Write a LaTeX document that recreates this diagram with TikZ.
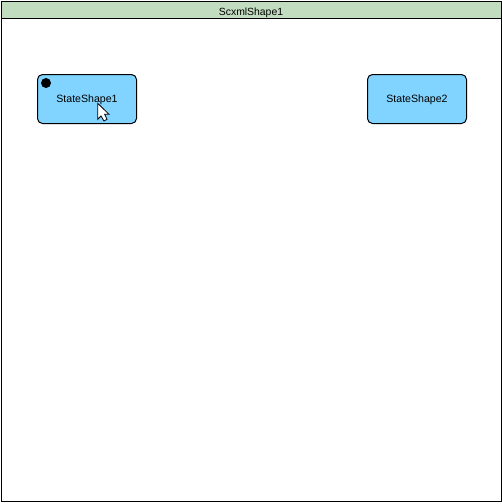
\documentclass[tikz,border=0pt]{standalone}
\usepackage{fontspec}
\setmainfont{Liberation Sans}
\definecolor{headergreen}{RGB}{193,220,190}
\definecolor{statesky}{RGB}{128,212,255}
\begin{document}
\begin{tikzpicture}[x=1pt, y=1pt, line width=1pt]
    \tikzstyle{scxml} = [draw=black, fill=white]
    \tikzstyle{header} = [draw=black, fill=headergreen]
    \tikzstyle{state} = [draw=black, fill=statesky, rounded corners=5pt, minimum width=99pt, minimum height=49pt, inner sep=0pt, text depth=0pt, font=\fontsize{10.6}{12}\selectfont]
    \tikzstyle{title} = [inner sep=0pt, font=\fontsize{10.4}{12}\selectfont]
    \tikzstyle{initial} = [circle, fill=black, minimum size=10pt, inner sep=0pt]
    \useasboundingbox (0, 0) rectangle (502, -504);
    \draw[scxml] (1.5, -1.5) rectangle (501.5, -501.5);
    \draw[header] (1.5, -1.5) rectangle (501.5, -18.5);
    \node[title] (scxmlTitle) at (251, -13) {ScxmlShape1};
    \node[state] (stateShape1) at (87, -99) {StateShape1};
    \node[state] (stateShape2) at (417, -99) {StateShape2};
    \node[initial] (initialDot) at (46, -83) {};
    % mouse pointer
    \draw[black, fill=white, line width=0.8pt, line join=miter] (97.7, -103.3) -- (97.7, -119.3) -- (101, -116) -- (104, -121) -- (107, -119.3) -- (104.7, -114.3) -- (109, -114.3) -- cycle;
\end{tikzpicture}
\end{document}
